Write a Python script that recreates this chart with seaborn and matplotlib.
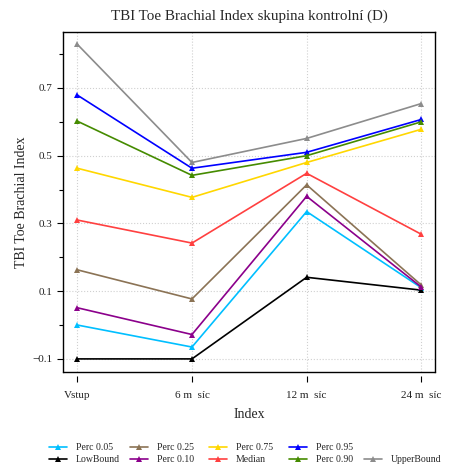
import numpy as np
import pandas as pd
import matplotlib
matplotlib.use("Agg")
import matplotlib.pyplot as plt
from matplotlib.lines import Line2D
import seaborn as sns

# time points on the x axis
timepoints = ["Vstup", "6 m  síc", "12 m  síc", "24 m  síc"]

# series values
upper_bound = [0.829, 0.480, 0.551, 0.654]
perc_95 = [0.679, 0.463, 0.510, 0.607]
perc_90 = [0.602, 0.442, 0.500, 0.600]
perc_75 = [0.463, 0.377, 0.480, 0.578]
median = [0.310, 0.242, 0.448, 0.268]
perc_25 = [0.163, 0.077, 0.414, 0.118]
perc_10 = [0.051, -0.028, 0.380, 0.112]
perc_05 = [0.000, -0.065, 0.335, 0.110]
low_bound = [-0.100, -0.100, 0.141, 0.103]

series = {
    "Perc 0.05": (perc_05, "#00bfff"),
    "LowBound": (low_bound, "#000000"),
    "Perc 0.25": (perc_25, "#8b7355"),
    "Perc 0.10": (perc_10, "#8b008b"),
    "Perc 0.75": (perc_75, "#ffd700"),
    "Median": (median, "#ff4040"),
    "Perc 0.95": (perc_95, "#0000ff"),
    "Perc 0.90": (perc_90, "#458b00"),
    "UpperBound": (upper_bound, "#8c8c8c"),
}

sns.set_style("white")
plt.rcParams["font.family"] = ["Liberation Serif", "DejaVu Serif"]

fig = plt.figure(figsize=(4.49, 4.70), dpi=100)
ax = fig.add_axes([0.141, 0.209, 0.828, 0.722])

x_pos = np.arange(len(timepoints))
handles = {}
for name, (vals, col) in series.items():
    df = pd.DataFrame({"x": x_pos, "y": vals})
    sns.lineplot(data=df, x="x", y="y", ax=ax, color=col, marker="^",
                 markersize=5, markeredgewidth=0, linewidth=1.2, zorder=3)
    handles[name] = Line2D([], [], color=col, marker="^", markersize=5,
                           markeredgewidth=0, linewidth=1.2)

ax.set_xlim(-0.122, 3.12)
ax.set_ylim(-0.138, 0.864)
ax.set_xticks(x_pos)
ax.set_xticklabels(timepoints)
ax.set_yticks([-0.1, 0.1, 0.3, 0.5, 0.7])
ax.set_yticklabels(["\u22120.1", "0.1", "0.3", "0.5", "0.7"])
ax.set_yticks([0.0, 0.2, 0.4, 0.6, 0.8], minor=True)
ax.tick_params(axis="both", which="major", direction="out", length=4.5,
               width=0.8, labelsize=8, color="black", labelcolor="#222222",
               bottom=True, left=True)
ax.tick_params(axis="y", which="minor", direction="out", length=3, width=0.8,
               color="black", left=True)
ax.tick_params(axis="x", pad=6)
ax.grid(True, which="major", color="#d0d0d0", linestyle=":", linewidth=0.8)

for s in ["top", "left", "right"]:
    ax.spines[s].set_color("black")
    ax.spines[s].set_linewidth(1.0)
# x ticks sit a little below the frame
ax.spines["bottom"].set_position(("outward", 3))
ax.spines["bottom"].set_color("none")
ax.plot([0, 1], [0, 0], transform=ax.transAxes, color="black", lw=1.0,
        clip_on=False, zorder=5)

ax.set_title("TBI Toe Brachial Index skupina kontrolní (D)", fontsize=10.8, pad=9)
ax.set_xlabel("Index", fontsize=10, labelpad=6)
ax.set_ylabel("TBI Toe Brachial Index", fontsize=10, labelpad=3)

# legend: equal width columns, one legend per column
blank = Line2D([], [], color="none")
legend_cols = [["Perc 0.05", "LowBound"], ["Perc 0.25", "Perc 0.10"],
               ["Perc 0.75", "Median"], ["Perc 0.95", "Perc 0.90"],
               [None, "UpperBound"]]
col_x = [49, 130, 209, 289, 364]
for cx, names in zip(col_x, legend_cols):
    hs = [handles[n] if n else blank for n in names]
    ls = [n if n else " " for n in names]
    leg = fig.legend(hs, ls, loc="upper left", bbox_to_anchor=(cx / 449, 1 - 443.5 / 470),
                     frameon=False, fontsize=7, handlelength=1.85,
                     handletextpad=0.9, labelspacing=0.25, borderpad=0,
                     borderaxespad=0)

fig.savefig("out.png", dpi=100)
